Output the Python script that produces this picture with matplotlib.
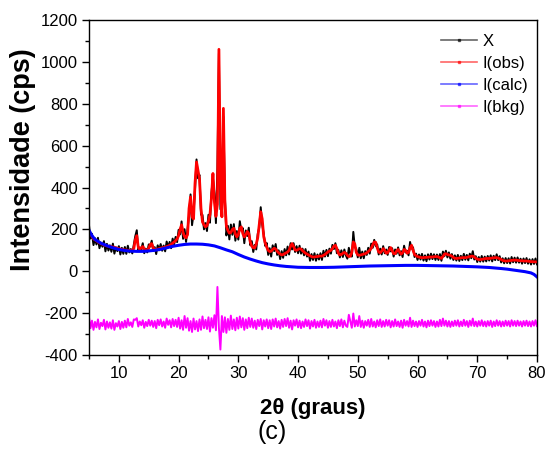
import numpy as np
import matplotlib
matplotlib.use("Agg")
import matplotlib.pyplot as plt
from matplotlib.lines import Line2D
from matplotlib.ticker import MultipleLocator

plt.rcParams['font.family'] = ['Liberation Sans', 'DejaVu Sans']
plt.rcParams['axes.unicode_minus'] = False

# 2theta grid (degrees) for the observed / fitted pattern
two_theta = np.arange(5.0, 80.0001, 0.25)

# fitted profile I(obs) (red), read every 0.25 deg
i_obs = [
    190,178,165,155,150,146,140,136,132,129,126,123,121,119,118,117,116,114,112,110,
    108,106,104,103,102,101,100,100,100,101,108,150,170,115,104,112,118,106,100,102,
    110,128,132,112,103,104,106,108,110,112,113,115,118,120,124,128,134,140,146,155,
    170,200,222,185,165,160,175,300,355,260,250,420,522,480,440,300,235,222,212,218,
    240,270,350,467,330,262,320,1060,420,260,778,330,215,195,182,185,200,205,178,164,
    175,205,212,180,164,175,190,180,140,120,112,112,130,160,220,284,250,165,135,115,
    100,94,96,104,110,106,96,88,82,78,80,84,88,92,100,120,132,118,102,100,
    104,108,106,98,92,86,82,78,74,70,68,68,70,70,72,72,72,76,80,86,
    92,96,100,108,120,124,108,86,78,80,86,90,86,76,70,72,90,140,130,90,
    78,76,78,80,82,84,88,94,100,110,126,140,138,112,92,88,96,108,100,86,
    88,100,113,98,84,84,96,104,92,82,88,104,100,86,90,112,124,100,80,74,
    70,68,66,65,65,66,66,67,68,68,68,69,70,70,68,64,62,70,82,84,
    80,78,76,72,66,62,61,62,63,64,65,65,65,66,68,70,72,72,68,62,
    58,56,56,57,58,60,61,61,61,62,63,64,65,65,63,60,56,52,50,49,
    49,50,51,52,53,53,53,52,51,50,50,49,49,49,48,47,46,46,45,45,
    45,
]

# residual (X - I(obs)) (offset -250)
residual = [
    30,-22,14,-30,8,-18,20,-26,4,-12,18,-28,10,-20,6,-24,16,-30,2,-14,
    12,-26,8,-20,14,-18,22,-10,6,-16,20,18,26,-14,10,-8,16,-20,8,-12,
    18,-10,14,-16,12,-22,18,-8,20,-14,10,-20,24,-6,16,-18,22,-12,18,-16,
    28,-24,16,-30,36,-20,26,-34,12,-40,24,-28,12,-36,20,-30,34,-22,18,-26,
    30,-38,26,-20,40,-32,175,-20,-124,36,-40,30,-44,22,-30,38,-26,20,-32,28,
    -24,34,-18,26,-30,20,-22,28,-16,24,-20,14,-26,18,-12,22,-28,16,-14,20,
    -22,16,-26,20,-14,24,-18,12,-24,18,-16,22,-12,26,-20,14,-28,16,-10,20,
    -18,14,-22,10,-16,20,-12,16,-24,12,-14,18,-20,10,-16,14,-18,22,-10,16,
    -20,12,-16,18,-14,10,-22,16,-12,20,-18,14,-10,-16,42,12,-20,48,-14,16,
    -12,36,-16,14,-20,12,-10,18,-16,22,-14,10,-18,16,-12,20,-16,12,-14,18,
    -10,16,-18,12,-14,20,-12,10,-16,14,-20,18,-10,12,-14,28,-16,14,-12,10,
    -16,12,-10,18,-14,10,-18,14,-12,16,-10,12,-16,10,-14,18,-12,24,-10,14,
    -14,12,-16,10,-12,14,-10,16,-14,10,-12,18,-10,12,-16,14,-10,24,-12,10,
    -14,12,-10,16,-12,10,-14,12,-10,14,-16,10,-12,16,-10,12,-14,10,-12,14,
    -10,12,-14,16,-10,12,-12,14,-10,10,-14,12,-10,14,-12,10,-14,12,-10,16,
    -12,
]

# smooth curve I(calc) (blue)
calc_theta = [5, 5.5, 6, 7, 8, 9, 10, 11, 12, 13, 14, 15, 16, 17, 18, 19, 20, 21, 22, 23,
              24, 25, 26, 27, 28, 29, 30, 31, 32, 33, 34, 35, 36, 37, 38, 39, 40, 42, 44,
              46, 48, 50, 52, 54, 56, 58, 60, 62, 64, 66, 68, 70, 72, 74, 75, 76, 77, 78,
              79, 79.5, 80]
i_calc = [196, 170, 152, 134, 122, 112, 104, 99, 96, 95, 95, 97, 100, 105, 112, 119, 124,
          128, 130, 130, 129, 126, 121, 112, 102, 93, 80, 68, 58, 49, 41, 35, 30, 26, 23,
          21, 19, 18, 18, 19, 21, 23, 25, 26, 27, 28, 28, 27, 26, 25, 23, 21, 18, 13, 10,
          6, 2, -2, -8, -15, -27]

bkg_offset = -250

labels = ["X", "I(obs)", "I(calc)", "I(bkg)"]
colors = ["black", "#ff0000", "#0000ff", "#ff00ff"]

i_obs_a = np.array(i_obs, dtype=float)
res_a = np.array(residual, dtype=float)
x_meas = i_obs_a + res_a
i_bkg = bkg_offset + res_a

fig = plt.figure(figsize=(5.46, 4.59), dpi=100)
ax = fig.add_axes([0.163, 0.2266, 0.8205, 0.7298])

ax.plot(two_theta, x_meas, color=colors[0], lw=1.4)
ax.plot(two_theta, i_obs_a, color=colors[1], lw=2.0)
ax.plot(calc_theta, i_calc, color=colors[2], lw=2.2)
ax.plot(two_theta, i_bkg, color=colors[3], lw=1.4)

ax.set_xlim(5, 80)
ax.set_ylim(-400, 1200)
ax.xaxis.set_major_locator(MultipleLocator(10))
ax.xaxis.set_minor_locator(MultipleLocator(5))
ax.yaxis.set_major_locator(MultipleLocator(200))
ax.yaxis.set_minor_locator(MultipleLocator(100))
ax.set_xticks([10, 20, 30, 40, 50, 60, 70, 80])
ax.tick_params(which='major', direction='out', length=5, width=1, labelsize=12, pad=3)
ax.tick_params(which='minor', direction='out', length=3, width=1)
ax.tick_params(top=False, right=False)
for s in ax.spines.values():
    s.set_linewidth(1.0)

ax.set_ylabel("Intensidade (cps)", fontsize=19.5, fontweight='bold')
ax.yaxis.set_label_coords(-0.118, 0.582)
ax.set_xlabel("2θ (graus)", fontsize=16, fontweight='bold', labelpad=12)

handles = [Line2D([0], [0], color=c, lw=1.2, alpha=0.6, marker='s', markersize=1.5,
                  markerfacecolor=c, markeredgecolor=c) for c in colors]
ax.legend(handles, labels, loc='upper left', bbox_to_anchor=(0.785, 0.958),
          frameon=False, fontsize=12, handlelength=2.2, handletextpad=0.3,
          labelspacing=0.42, borderpad=0, borderaxespad=0)

fig.text(0.498, 0.058, "(c)", fontsize=18, ha='center', va='center')

fig.savefig("out.png", dpi=100)
